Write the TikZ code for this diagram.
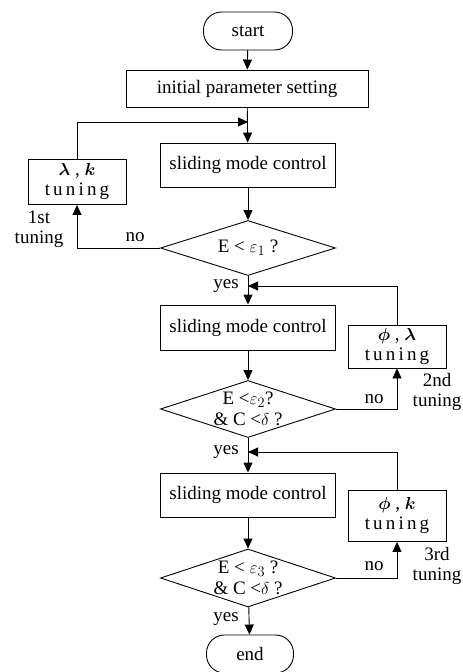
\documentclass[tikz,border=0pt]{standalone}
\usepackage{amsmath}
\usepackage{fontspec}
\setmainfont{Liberation Serif}
\usetikzlibrary{shapes.geometric,arrows.meta}
\begin{document}
\begin{tikzpicture}[x=1pt,y=-1pt,
  font=\fontsize{19}{21}\selectfont,
  every node/.style={inner sep=0pt},
  flow/.style={line width=0.9pt,-{Triangle[length=10pt,width=9pt]}},
  term/.style={draw,line width=0.9pt,rectangle,rounded corners=18pt,minimum width=89pt,minimum height=38pt},
  proc/.style={draw,line width=0.9pt,rectangle,minimum width=175pt,minimum height=44pt},
  tune/.style={draw,line width=0.9pt,rectangle,minimum width=98pt,align=center},
  dec/.style={draw,line width=0.9pt,diamond,shape aspect=3.2,inner xsep=-12pt,inner ysep=-9pt,minimum width=175pt,align=center},
  lab/.style={align=center}]
\useasboundingbox (0,0) rectangle (463,672);
\node[term] (start) at (248,31) {start};
\node[draw,line width=0.9pt,rectangle,minimum width=242pt,minimum height=37pt] (init) at (247,88.5) {initial parameter setting};
\node[proc] (smc1) at (248,165) {sliding mode control};
\node[tune,minimum height=45pt] (tun1) at (77,182) {$\boldsymbol{\lambda}$ , $\boldsymbol{k}$\\[-1pt] t\,u\,n\,i\,n\,g};
\node[dec,minimum height=55pt] (d1) at (248,248) {E < $\varepsilon_1$ ?};
\node[proc,minimum height=45pt] (smc2) at (248,327.5) {sliding mode control};
\node[tune,minimum height=43pt] (tun2) at (397,346.5) {$\boldsymbol{\phi}$ , $\boldsymbol{\lambda}$\\[-1pt] t\,u\,n\,i\,n\,g};
\node[dec,minimum height=57pt] (d2) at (248,409) {E <$\varepsilon_2$?\\ \& C <$\delta$ ?};
\node[proc] (smc3) at (248,495) {sliding mode control};
\node[tune,minimum height=51pt] (tun3) at (397,516) {$\boldsymbol{\phi}$ , $\boldsymbol{k}$\\[-1pt] t\,u\,n\,i\,n\,g};
\node[dec,minimum height=58pt] (d3) at (248,578) {E < $\varepsilon_3$ ?\\ \& C <$\delta$ ?};
\node[term,minimum width=87pt] (end) at (250,654) {end};
\coordinate (j1) at (248,122);
\coordinate (j2) at (248,286);
\coordinate (j3) at (248,452);
\draw[flow] (start) -- (init);
\draw[flow] (init) -- (smc1);
\draw[flow] (tun1.north) |- (j1);
\draw[flow] (smc1) -- (d1);
\draw[flow] (d1.west) -| (tun1.south);
\draw[flow] (d1) -- (smc2);
\draw[flow] (tun2.north) |- (j2);
\draw[flow] (smc2) -- (d2);
\draw[flow] (d2.east) -| (tun2.south);
\draw[flow] (d2) -- (smc3);
\draw[flow] (tun3.north) |- (j3);
\draw[flow] (smc3) -- (d3);
\draw[flow] (d3.east) -| (tun3.south);
\draw[flow] (d3) -- (end);
\node[lab] (no1) at (135,237) {no};
\node[lab] (t1) at (39,229) {1st\\[-1pt]tuning};
\node[lab] (yes1) at (226,286) {yes};
\node[lab] (no2) at (374,399) {no};
\node[lab] (t2) at (437,392) {2nd\\[-1pt]tuning};
\node[lab] (yes2) at (226,452) {yes};
\node[lab] (no3) at (374,566) {no};
\node[lab] (t3) at (437,566) {3rd\\[-1pt]tuning};
\node[lab] (yes3) at (226,619) {yes};
\end{tikzpicture}
\end{document}
